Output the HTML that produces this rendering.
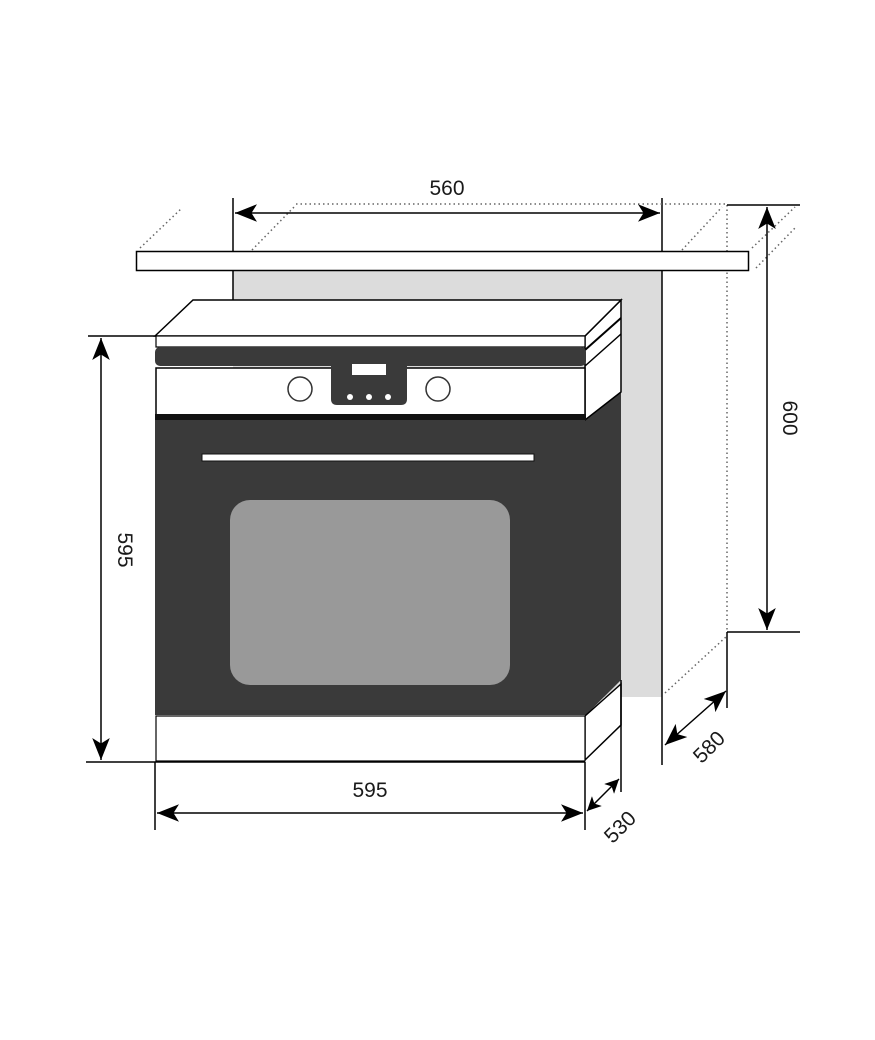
<!DOCTYPE html>
<html><head><meta charset="utf-8"><style>
html,body{margin:0;padding:0;background:#fff;}
svg{display:block;}
text{font-family:"Liberation Sans","DejaVu Sans",sans-serif;font-size:21px;fill:#1a1a1a;}
</style></head><body>
<svg width="875" height="1040" viewBox="0 0 875 1040" xmlns="http://www.w3.org/2000/svg">
<defs>
<marker id="a" viewBox="0 0 10 10" refX="10" refY="5" markerWidth="14" markerHeight="14" markerUnits="userSpaceOnUse" orient="auto-start-reverse"><path d="M0,0 L10,5 L0,10 L2.5,5 z" fill="#000"/></marker>
<marker id="b" viewBox="0 0 10 10" refX="10" refY="5" markerWidth="22" markerHeight="22" markerUnits="userSpaceOnUse" orient="auto-start-reverse"><path d="M0,1 L10,5 L0,9 L2.5,5 z" fill="#000"/></marker>
</defs>
<!-- niche gray -->
<rect x="233" y="270" width="429" height="427" fill="#dcdcdc"/>
<line x1="662" y1="198" x2="662" y2="765" stroke="#000" stroke-width="1.5"/>
<line x1="233" y1="198" x2="233" y2="300" stroke="#000" stroke-width="1.5"/>
<!-- dotted -->
<g stroke="#666" stroke-width="1.5" stroke-dasharray="1.5,3" fill="none">
<line x1="296" y1="204" x2="727" y2="204"/>
<line x1="252" y1="250" x2="296" y2="205"/>
<line x1="140" y1="248" x2="182" y2="208"/>
<line x1="682" y1="250" x2="722" y2="207"/>
<line x1="752" y1="248" x2="795" y2="207"/>
<line x1="756" y1="268" x2="795" y2="228"/>
<line x1="727" y1="205" x2="727" y2="632"/>
<line x1="665" y1="693" x2="727" y2="636"/>
</g>
<!-- countertop -->
<rect x="136.5" y="251.5" width="612" height="19" fill="#fff" stroke="#000" stroke-width="1.5"/>
<!-- 560 -->
<line x1="235" y1="213" x2="660" y2="213" stroke="#000" stroke-width="1.5" marker-start="url(#b)" marker-end="url(#b)"/>
<text x="447" y="195" text-anchor="middle">560</text>
<!-- 600 -->
<line x1="727" y1="205" x2="800" y2="205" stroke="#000" stroke-width="1.5"/>
<line x1="727" y1="632" x2="800" y2="632" stroke="#000" stroke-width="1.5"/>
<line x1="727" y1="632" x2="727" y2="708" stroke="#000" stroke-width="1.5"/>
<line x1="767" y1="207" x2="767" y2="630" stroke="#000" stroke-width="1.5" marker-start="url(#b)" marker-end="url(#b)"/>
<text transform="translate(783,418) rotate(90)" text-anchor="middle">600</text>
<!-- oven right side -->
<polygon points="585,336 621,300 621,680 585,716" fill="#3a3a3a"/>
<polygon points="585,336 621,300 621,392 585,420" fill="#fff" stroke="#000" stroke-width="1.5"/>
<line x1="585" y1="350" x2="621" y2="318" stroke="#000" stroke-width="2"/>
<line x1="585" y1="366" x2="621" y2="334" stroke="#000" stroke-width="1.5"/>
<polygon points="585,716 621,684 621,725 585,760" fill="#fff" stroke="#000" stroke-width="1.5"/>
<!-- top slab -->
<polygon points="155,336 193,300 621,300 585,336" fill="#fff" stroke="#000" stroke-width="1.5"/>
<rect x="156" y="336" width="429" height="11" fill="#fff" stroke="#000" stroke-width="1.2"/>
<rect x="155" y="347" width="431" height="19" rx="5" fill="#3a3a3a"/>
<rect x="156" y="368" width="429" height="48" fill="#fff" stroke="#000" stroke-width="1.5"/>
<rect x="155" y="414" width="431" height="6" fill="#111"/>
<path d="M331,366 H407 V399 Q407,405 401,405 H337 Q331,405 331,399 Z" fill="#3a3a3a"/>
<rect x="351" y="363" width="36" height="13" fill="#fff" stroke="#3a3a3a" stroke-width="2"/>
<circle cx="350" cy="397" r="3" fill="#fff"/><circle cx="369" cy="397" r="3" fill="#fff"/><circle cx="388" cy="397" r="3" fill="#fff"/>
<circle cx="300" cy="389" r="12" fill="#fff" stroke="#333" stroke-width="1.5"/>
<circle cx="438" cy="389" r="12" fill="#fff" stroke="#333" stroke-width="1.5"/>
<!-- door -->
<rect x="155" y="420" width="430" height="295" fill="#3a3a3a"/>
<rect x="202" y="454" width="332" height="7" fill="#fff" stroke="#111" stroke-width="1"/>
<rect x="230" y="500" width="280" height="185" rx="20" fill="#999"/>
<rect x="156" y="716" width="429" height="45" fill="#fff" stroke="#000" stroke-width="1.2"/>
<!-- 595 left -->
<line x1="88" y1="336" x2="156" y2="336" stroke="#000" stroke-width="1.5"/>
<line x1="86" y1="762" x2="585" y2="762" stroke="#000" stroke-width="1.5"/>
<line x1="101" y1="338" x2="101" y2="760" stroke="#000" stroke-width="1.5" marker-start="url(#b)" marker-end="url(#b)"/>
<text transform="translate(118,550) rotate(90)" text-anchor="middle">595</text>
<!-- 595 bottom -->
<line x1="155" y1="762" x2="155" y2="830" stroke="#000" stroke-width="1.5"/>
<line x1="585" y1="762" x2="585" y2="830" stroke="#000" stroke-width="1.5"/>
<line x1="157" y1="813" x2="583" y2="813" stroke="#000" stroke-width="1.5" marker-start="url(#b)" marker-end="url(#b)"/>
<text x="370" y="797" text-anchor="middle">595</text>
<!-- 530 -->
<line x1="621" y1="680" x2="621" y2="792" stroke="#000" stroke-width="1.5"/>
<line x1="587" y1="811" x2="619" y2="779" stroke="#000" stroke-width="1.5" marker-start="url(#a)" marker-end="url(#a)"/>
<text transform="translate(625,832) rotate(-45)" text-anchor="middle">530</text>
<!-- 580 -->
<line x1="665" y1="745" x2="726" y2="691" stroke="#000" stroke-width="1.5" marker-start="url(#b)" marker-end="url(#b)"/>
<text transform="translate(714,752) rotate(-45)" text-anchor="middle">580</text>
</svg>
</body></html>
